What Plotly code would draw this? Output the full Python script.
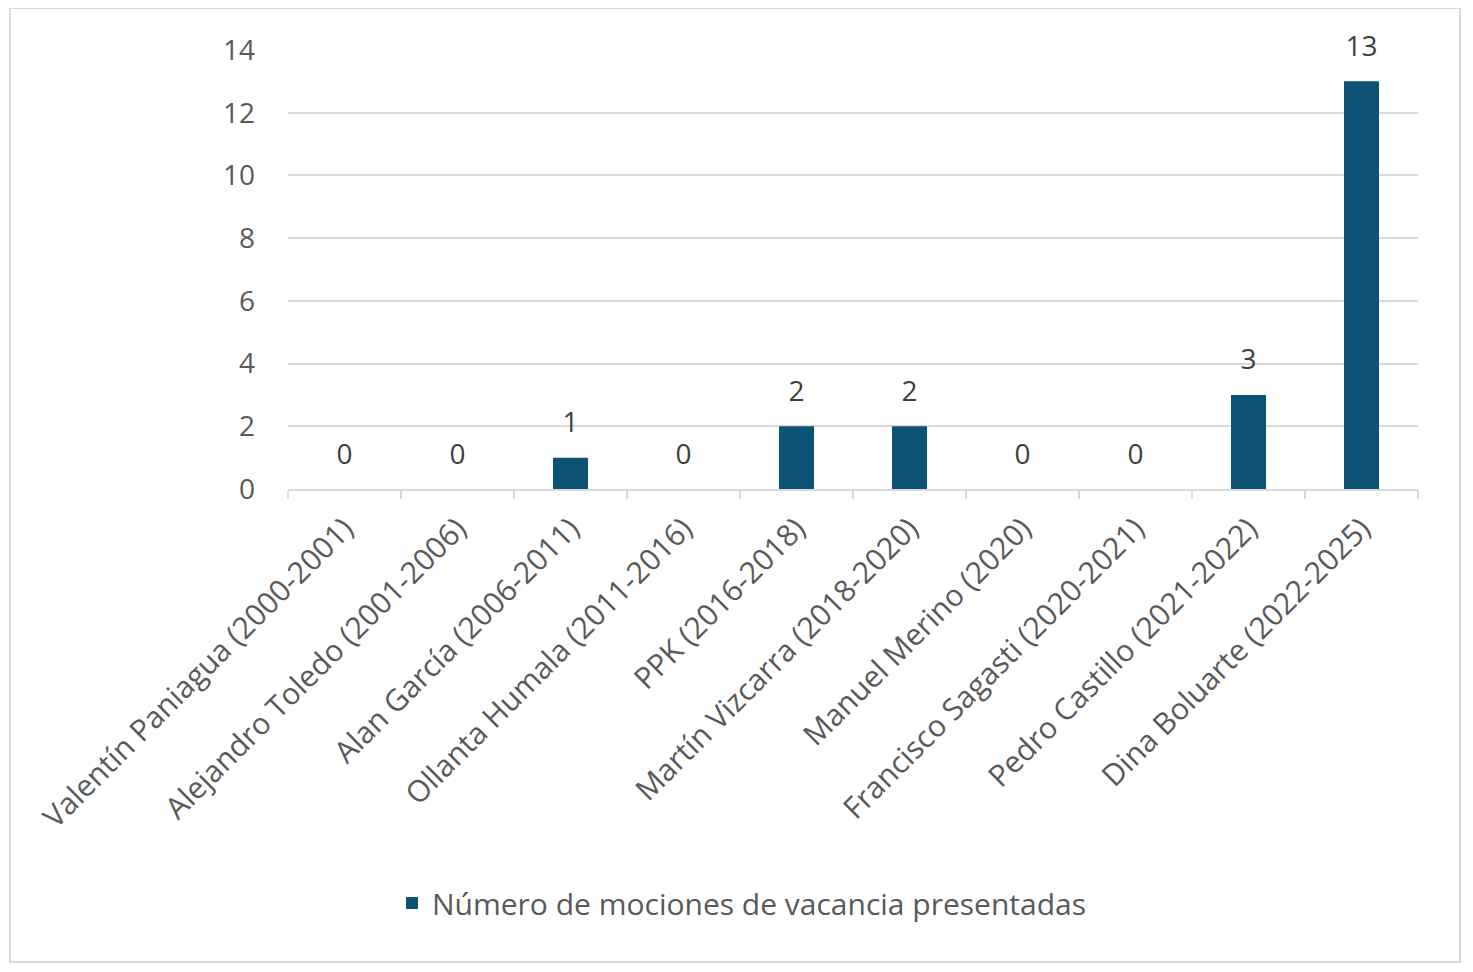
import plotly.graph_objects as go

categories = [
    "Valentín Paniagua (2000-2001)",
    "Alejandro Toledo (2001-2006)",
    "Alan García (2006-2011)",
    "Ollanta Humala (2011-2016)",
    "PPK (2016-2018)",
    "Martín Vizcarra (2018-2020)",
    "Manuel Merino (2020)",
    "Francisco Sagasti (2020-2021)",
    "Pedro Castillo (2021-2022)",
    "Dina Boluarte (2022-2025)",
]
values = [0, 0, 1, 0, 2, 2, 0, 0, 3, 13]
series_name = "Número de mociones de vacancia presentadas"
y_ticks = [0, 2, 4, 6, 8, 10, 12, 14]

OFF = 8  # default page body margin
W, H = 1473 - 2 * OFF, 972 - 2 * OFF
L, R, T, B = 288 - OFF, 1418 - OFF, 50 - OFF, 489 - OFF
pw, ph = R - L, B - T

def px_x(x):
    return (x - OFF - L) / pw

def px_y(y):
    return (B - (y - OFF)) / ph

FONT = "Open Sans"
BAR = "#0B5274"

fig = go.Figure()
fig.add_trace(go.Bar(
    x=categories, y=values, name=series_name,
    marker=dict(color=BAR, line=dict(width=0)),
    showlegend=True, hoverinfo="x+y",
))
fig.add_trace(go.Scatter(
    x=categories, y=values, mode="markers+text",
    text=[str(v) for v in values], textposition="top center",
    marker=dict(size=28, color="rgba(0,0,0,0)"),
    textfont=dict(family=FONT, size=28, color="#404040"),
    cliponaxis=False, showlegend=False, hoverinfo="skip",
))

fig.update_layout(
    width=W, height=H,
    margin=dict(l=L, r=W - R, t=T, b=H - B),
    paper_bgcolor="white", plot_bgcolor="white",
    bargap=0.69,
    font=dict(family=FONT, color="#595959"),
    legend=dict(orientation="h", x=px_x(742), xanchor="center",
                y=px_y(903), yanchor="middle",
                font=dict(family=FONT, size=30, color="#595959")),
    xaxis=dict(
        range=[-0.5, len(categories) - 0.5], autorange=False,
        tickangle=-45, tickfont=dict(family=FONT, size=30, color="#595959"),
        showline=True, linecolor="#D9D9D9", linewidth=2,
        ticks="outside", tickson="boundaries", ticklen=8, tickcolor="#D9D9D9", tickwidth=2,
        showgrid=False, ticklabelstandoff=8,
    ),
    yaxis=dict(
        range=[0, 14], tickvals=y_ticks,
        tickfont=dict(family=FONT, size=28, color="#595959"),
        showgrid=True, gridcolor="#D9D9D9", gridwidth=2,
        zeroline=False, showline=False, ticks="", ticklabelstandoff=32,
    ),
    shapes=[dict(type="rect", xref="paper", yref="paper",
                 x0=px_x(10), x1=px_x(1460), y0=px_y(962), y1=px_y(8),
                 line=dict(color="#D9D9D9", width=2), layer="below")],
)

fig.write_html("out.html")
